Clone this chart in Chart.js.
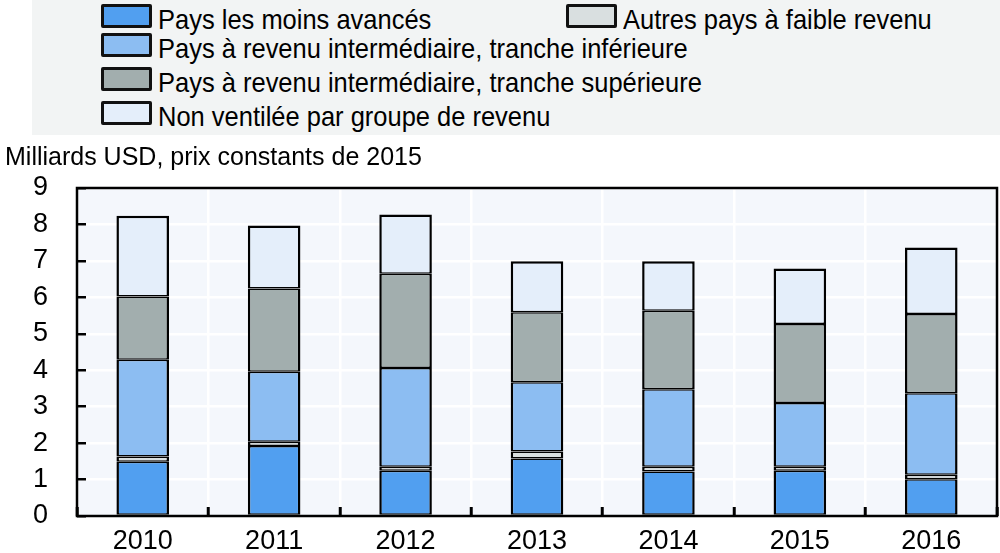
<!DOCTYPE html>
<html lang="fr">
<head>
<meta charset="UTF-8">
<title>Milliards USD, prix constants de 2015</title>
<script src="https://cdn.jsdelivr.net/npm/chart.js"></script>
<style>
    body { margin: 0; background: #fff; }
    #wrap { position: relative; width: 1000px; height: 553px; overflow: hidden; }
    #myChart { position: absolute; left: 0; top: 0; }
    #legend { position: absolute; left: 32px; top: 0; width: 968px; height: 135px; background: #f2f4f4;
              font-family: 'Liberation Sans', Arial, sans-serif; font-size: 28px; color: #000; }
    .item { position: absolute; white-space: nowrap; line-height: 28px; transform: scaleX(0.91); transform-origin: 0 0; }
    .box { position: absolute; width: 51px; height: 24px; box-sizing: border-box; border: 3px solid #111; border-radius: 2px; }
</style>
</head>
<body>
<div id="wrap">
    <canvas id="myChart" width="1000" height="553"></canvas>
    <div id="legend"></div>
</div>
<script>
    const years = ['2010', '2011', '2012', '2013', '2014', '2015', '2016'];
    const seriesNames = [
        'Pays les moins avancés',
        'Autres pays à faible revenu',
        'Pays à revenu intermédiaire, tranche inférieure',
        'Pays à revenu intermédiaire, tranche supérieure',
        'Non ventilée par groupe de revenu'
    ];
    const pma = [1.49, 1.92, 1.24, 1.58, 1.22, 1.24, 1.01];
    const autresFaible = [0.14, 0.12, 0.11, 0.19, 0.13, 0.11, 0.12];
    const trancheInf = [2.66, 1.92, 2.71, 1.90, 2.13, 1.75, 2.24];
    const trancheSup = [1.73, 2.28, 2.59, 1.92, 2.15, 2.17, 2.17];
    const nonVentilee = [2.22, 1.73, 1.62, 1.40, 1.36, 1.52, 1.83];
    const yTicks = [0, 1, 2, 3, 4, 5, 6, 7, 8, 9];

    const colors = ['#519ff0', '#d9dfe0', '#8cbdf2', '#a2aeae', '#e4eefa'];
    const values = [pma, autresFaible, trancheInf, trancheSup, nonVentilee];

    // legend placement (left of box, top of box) relative to the grey band
    const legendPos = [[69, 4], [534, 4], [69, 33], [69, 67], [69, 101]];
    const legendDiv = document.getElementById('legend');
    seriesNames.forEach((name, i) => {
        const box = document.createElement('div');
        box.className = 'box';
        box.style.left = legendPos[i][0] + 'px';
        box.style.top = legendPos[i][1] + 'px';
        box.style.background = colors[i];
        legendDiv.appendChild(box);
        const txt = document.createElement('div');
        txt.className = 'item';
        txt.style.left = (legendPos[i][0] + 57) + 'px';
        txt.style.top = (legendPos[i][1] + 2) + 'px';
        txt.textContent = name;
        legendDiv.appendChild(txt);
    });

    const sans = "'Liberation Sans', Arial, sans-serif";

    const plotFrame = {
        id: 'plotFrame',
        beforeDraw(chart) {
            const a = chart.chartArea, c = chart.ctx;
            c.save();
            c.fillStyle = '#f4f7fc';
            c.fillRect(a.left, a.top, a.right - a.left, a.bottom - a.top);
            c.restore();
        },
        afterDatasetsDraw(chart) {
            const a = chart.chartArea, c = chart.ctx;
            c.save();
            c.strokeStyle = '#000';
            c.lineWidth = 2.5;
            c.strokeRect(a.left, a.top, a.right - a.left, a.bottom - a.top);
            c.restore();
        }
    };

    const datasets = seriesNames.map((name, i) => ({
        label: name,
        data: values[i],
        backgroundColor: colors[i],
        borderColor: '#000',
        borderWidth: { top: i === 4 ? 2.5 : 1.5, bottom: 1.5, left: 2.5, right: 2.5 },
        borderSkipped: false,
        barPercentage: 0.4,
        categoryPercentage: 1
    }));

    const ctx = document.getElementById('myChart').getContext('2d');
    const myChart = new Chart(ctx, {
        type: 'bar',
        data: { labels: years, datasets: datasets },
        options: {
            responsive: false,
            animation: false,
            layout: { padding: { top: 136, left: 5, right: 3, bottom: 0 } },
            plugins: {
                legend: { display: false },
                tooltip: { enabled: false },
                title: {
                    display: true,
                    text: 'Milliards USD, prix constants de 2015',
                    align: 'start',
                    color: '#000',
                    font: { family: sans, size: 25, weight: 'normal', lineHeight: 1.2 },
                    padding: { top: 7, bottom: 15 }
                }
            },
            scales: {
                x: {
                    stacked: true,
                    border: { display: false },
                    grid: { color: '#ffffff', lineWidth: 2.5, offset: true, drawTicks: true, tickLength: -9, tickColor: '#000', tickWidth: 3 },
                    ticks: { color: '#000', padding: 18, font: { family: sans, size: 27, lineHeight: 1.2 } },
                    afterFit: (scale) => { scale.height = 37; }
                },
                y: {
                    stacked: true,
                    min: 0,
                    max: 9,
                    border: { display: false },
                    afterBuildTicks: (scale) => { scale.ticks = yTicks.map(v => ({ value: v })); },
                    grid: { color: '#ffffff', lineWidth: 2.5, drawTicks: true, tickLength: -9, tickColor: '#000', tickWidth: 2.5 },
                    ticks: { color: '#000', padding: 38, font: { family: sans, size: 27 } },
                    afterFit: (scale) => {
                        scale.width = 72;
                        scale.paddingTop = 0;
                        scale.paddingBottom = 0;
                    }
                }
            }
        },
        plugins: [plotFrame]
    });
</script>
</body>
</html>
